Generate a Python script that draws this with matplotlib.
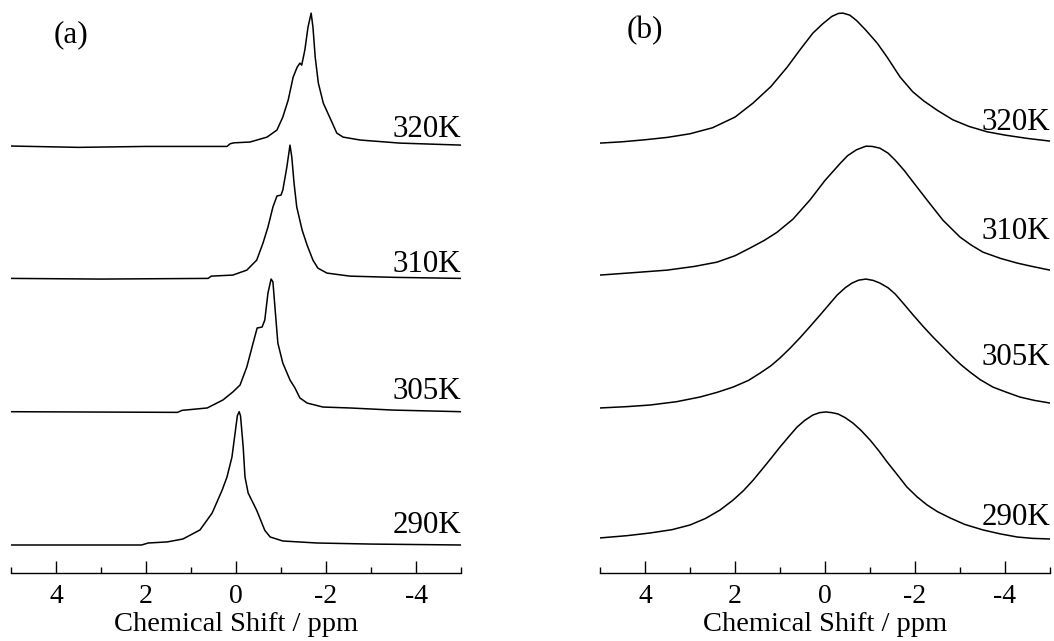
import numpy as np
import matplotlib
matplotlib.use("Agg")
import matplotlib.pyplot as plt
from matplotlib.ticker import MultipleLocator

plt.rcParams['font.family'] = ['Liberation Serif', 'DejaVu Serif']
plt.rcParams['axes.unicode_minus'] = False

# ---------------- data (chemical shift in ppm, normalised intensity) ----------------
temps = ['320K', '310K', '305K', '290K']
offsets = [3, 2, 1, 0]

# panel (a) : measured spectra
a320_ppm = [5.0, 3.5, 2.0, 0.2, 0.13, 0.05, -0.31, -0.69, -0.91, -1.04, -1.16, -1.27, -1.36, -1.42,
            -1.46, -1.53, -1.6, -1.67, -1.71, -1.76, -1.83, -1.94, -2.04, -2.13, -2.24, -2.38, -2.76,
            -3.64, -5.0]
a320_int = [-0.007, -0.017, -0.01, -0.01, 0.01, 0.017, 0.023, 0.06, 0.113, 0.21, 0.338, 0.51, 0.585, 0.615,
            0.6, 0.713, 0.885, 0.99, 0.885, 0.66, 0.465, 0.315, 0.24, 0.173, 0.09, 0.06, 0.038,
            0.015, 0.0]

a310_ppm = [5.0, 3.0, 0.62, 0.55, 0.07, -0.24, -0.46, -0.6, -0.71, -0.82, -0.91, -1.0, -1.04, -1.13,
            -1.2, -1.24, -1.29, -1.35, -1.47, -1.58, -1.71, -1.82, -2.02, -2.53, -3.5, -5.0]
a310_int = [0.0, -0.005, 0.0, 0.017, 0.025, 0.062, 0.137, 0.265, 0.385, 0.535, 0.618, 0.625, 0.662, 0.835,
            1.0, 0.91, 0.715, 0.535, 0.362, 0.25, 0.137, 0.077, 0.04, 0.017, 0.008, 0.0]

a305_ppm = [5.0, 1.3, 1.2, 0.64, 0.29, 0.07, -0.09, -0.24, -0.38, -0.47, -0.58, -0.64, -0.71, -0.78,
            -0.82, -0.87, -0.93, -1.04, -1.2, -1.31, -1.42, -1.58, -1.93, -2.53, -3.5, -5.0]
a305_int = [0.0, -0.005, 0.01, 0.028, 0.088, 0.148, 0.2, 0.335, 0.515, 0.628, 0.635, 0.688, 0.89, 0.995,
            0.975, 0.765, 0.515, 0.365, 0.238, 0.178, 0.103, 0.065, 0.035, 0.028, 0.012, 0.0]

a290_ppm = [5.0, 2.1, 1.95, 1.53, 1.18, 0.8, 0.53, 0.31, 0.2, 0.09, 0.02, -0.03, -0.07, -0.1, -0.16,
            -0.2, -0.27, -0.46, -0.64, -0.76, -1.04, -1.8, -3.0, -5.0]
a290_int = [0.0, 0.0, 0.015, 0.023, 0.045, 0.113, 0.24, 0.41, 0.51, 0.66, 0.84, 0.97, 1.0, 0.97, 0.735,
            0.51, 0.39, 0.26, 0.11, 0.06, 0.03, 0.015, 0.007, 0.0]

# panel (b) : simulated spectra
b320_ppm = [5.0, 4.5, 4.0, 3.5, 3.0, 2.5, 2.0, 1.6, 1.2, 0.84, 0.56, 0.27, 0.05, -0.15, -0.3, -0.4,
            -0.55, -0.7, -0.9, -1.16, -1.38, -1.67, -1.95, -2.2, -2.5, -2.84, -3.2, -3.6, -4.0, -4.5, -5.0]
b320_int = [0.015, 0.025, 0.04, 0.058, 0.085, 0.13, 0.21, 0.315, 0.44, 0.585, 0.713, 0.84, 0.91, 0.965,
            0.988, 0.99, 0.975, 0.935, 0.865, 0.765, 0.66, 0.51, 0.4, 0.33, 0.26, 0.19, 0.14, 0.1, 0.075,
            0.05, 0.03]

b310_ppm = [5.0, 4.3, 3.51, 2.9, 2.4, 2.0, 1.67, 1.35, 1.07, 0.71, 0.33, 0.0, -0.33, -0.5, -0.7, -0.91,
            -1.05, -1.22, -1.4, -1.56, -1.76, -1.96, -2.27, -2.62, -3.0, -3.25, -3.51, -3.9, -4.27, -4.6,
            -5.0]
b310_int = [0.025, 0.042, 0.062, 0.09, 0.122, 0.17, 0.227, 0.285, 0.345, 0.445, 0.59, 0.735, 0.86, 0.92,
            0.965, 0.992, 0.99, 0.977, 0.94, 0.887, 0.81, 0.722, 0.587, 0.437, 0.31, 0.25, 0.197, 0.15,
            0.115, 0.09, 0.062]

b305_ppm = [5.0, 4.4, 3.89, 3.3, 2.78, 2.4, 2.04, 1.7, 1.44, 1.2, 1.0, 0.78, 0.56, 0.33, 0.11, -0.08,
            -0.27, -0.45, -0.6, -0.75, -0.91, -1.07, -1.22, -1.4, -1.56, -1.76, -1.96, -2.18, -2.4, -2.62,
            -2.84, -3.03, -3.22, -3.45, -3.73, -4.0, -4.33, -4.65, -5.0]
b305_int = [0.028, 0.038, 0.05, 0.075, 0.11, 0.145, 0.185, 0.235, 0.29, 0.345, 0.403, 0.475, 0.553, 0.64,
            0.725, 0.8, 0.875, 0.93, 0.965, 0.987, 0.995, 0.985, 0.965, 0.93, 0.883, 0.805, 0.725, 0.64,
            0.56, 0.485, 0.41, 0.35, 0.298, 0.24, 0.185, 0.15, 0.11, 0.085, 0.065]

b290_ppm = [5.0, 4.4, 3.89, 3.4, 3.0, 2.65, 2.33, 2.05, 1.82, 1.6, 1.38, 1.2, 1.0, 0.8, 0.62, 0.45, 0.27,
            0.12, -0.02, -0.15, -0.29, -0.45, -0.62, -0.8, -1.0, -1.2, -1.38, -1.6, -1.82, -2.05, -2.27,
            -2.5, -2.78, -3.1, -3.51, -3.9, -4.27, -4.6, -5.0]
b290_int = [0.053, 0.07, 0.09, 0.115, 0.15, 0.2, 0.263, 0.335, 0.405, 0.485, 0.575, 0.65, 0.735, 0.815,
            0.885, 0.935, 0.975, 0.993, 0.998, 0.993, 0.983, 0.955, 0.915, 0.86, 0.788, 0.705, 0.623, 0.53,
            0.435, 0.36, 0.3, 0.25, 0.203, 0.155, 0.113, 0.083, 0.06, 0.05, 0.045]

xticks_major = [4, 2, 0, -2, -4]
xtick_labels = ['4', '2', '0', '-2', '-4']
panel_a = [(a320_ppm, a320_int), (a310_ppm, a310_int), (a305_ppm, a305_int), (a290_ppm, a290_int)]
panel_b = [(b320_ppm, b320_int), (b310_ppm, b310_int), (b305_ppm, b305_int), (b290_ppm, b290_int)]

# label baselines (in offset units)
label_y_a = [3.06, 2.05, 1.095, 0.09]
label_y_b = [3.11, 2.296, 1.35, 0.15]

# ---------------- figure ----------------
W, H = 1054, 641
fig = plt.figure(figsize=(W / 100, H / 100), dpi=100)
ax_a = fig.add_axes([11 / W, 1 - 573 / H, 450 / W, 573 / H])
ax_b = fig.add_axes([600 / W, 1 - 573 / H, 450 / W, 573 / H])

ylo = (545 - 573) / 133.3
yhi = 545 / 133.3

def style(ax, tag, tagpos):
    ax.set_xlim(5, -5)
    ax.set_ylim(ylo, yhi)
    for s in ['left', 'right', 'top']:
        ax.spines[s].set_visible(False)
    ax.spines['bottom'].set_linewidth(1.0)
    ax.set_yticks([])
    ax.set_xticks(xticks_major)
    ax.set_xticklabels(xtick_labels)
    ax.xaxis.set_minor_locator(MultipleLocator(1))
    ax.tick_params(axis='x', which='major', direction='in', length=8.5, width=1.0,
                   labelsize=20, pad=8)
    ax.tick_params(axis='x', which='minor', direction='in', length=4.5, width=1.0)
    ax.set_xlabel('Chemical Shift / ppm', fontsize=20.5, labelpad=2)
    ax.text(tagpos[0], tagpos[1], tag, fontsize=22.5, ha='center', va='center')
    ax.patch.set_alpha(0)

for ax, traces, ly in [(ax_a, panel_a, label_y_a), (ax_b, panel_b, label_y_b)]:
    for (ppm, inten), off, t, yl in zip(traces, offsets, temps, ly):
        ax.plot(ppm, np.asarray(inten) + off, color='black', lw=1.1, solid_joinstyle='round')
        ax.text(-5, yl, t, fontsize=22.3, ha='right', va='baseline')

style(ax_a, '(a)', (3.67, 3.83))
style(ax_b, '(b)', (4.0, 3.86))

fig.savefig('out.png', dpi=100)
